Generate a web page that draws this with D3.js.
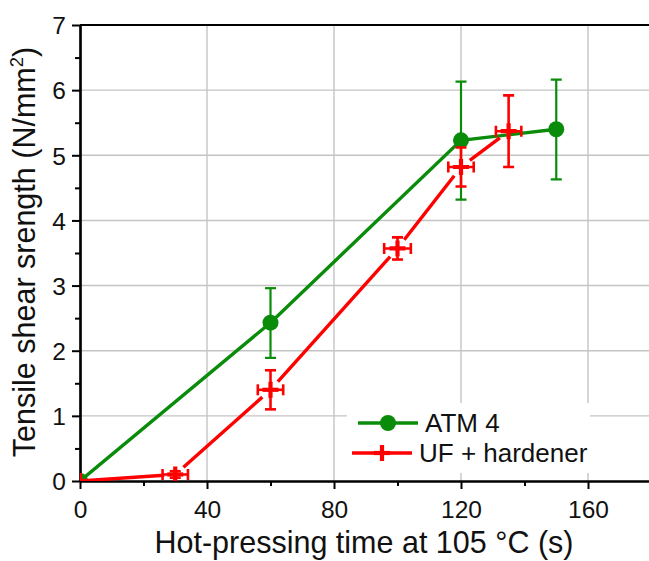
<!DOCTYPE html>
<html><head><meta charset="utf-8">
<script src="https://cdn.jsdelivr.net/npm/d3@7"></script>
<style>body{margin:0;background:#fff} text{font-family:"Liberation Sans",Arial,sans-serif}</style>
</head><body><svg id="c" width="649" height="561"></svg>
<script>
// ---- data ----
const atmX=[0,60,120,150];
const atmY=[0,2.43,5.23,5.40];
const atmErrLo=[0,1.89,4.32,4.63];
const atmErrHi=[0,2.96,6.13,6.16];
const ufX=[0,30,60,100,120,135];
const ufY=[0,0.10,1.40,3.57,4.82,5.37];
const ufYErr=[0,0.05,0.30,0.17,0.30,0.55];
const ufXErr=[0,4,4,4.2,4,4];
const xTicks=[0,40,80,120,160];
const xMinor=[20,60,100,140,180];
const yTicks=[0,1,2,3,4,5,6,7];
const yMinor=[0.5,1.5,2.5,3.5,4.5,5.5,6.5];
const seriesNames=["ATM 4","UF + hardener"];
const green="#0a8c0a", red="#ff0000";

const svg=d3.select("#c");
const L=80,R=651.5,T=25,B=481;
const x=d3.scaleLinear([0,180],[L,R]);
const y=d3.scaleLinear([0,7],[B,T]);

svg.append("defs").append("clipPath").attr("id","pc")
  .append("rect").attr("x",L).attr("y",T).attr("width",R-L).attr("height",B-T);

// grid
const g=svg.append("g");
g.selectAll(".gx").data(xTicks.slice(1)).join("line")
  .attr("x1",d=>x(d)).attr("x2",d=>x(d)).attr("y1",T).attr("y2",B)
  .attr("stroke","#c4c4c4").attr("stroke-width",1.4);
g.selectAll(".gy").data(yTicks.slice(1,-1)).join("line")
  .attr("x1",L).attr("x2",R).attr("y1",d=>y(d)).attr("y2",d=>y(d))
  .attr("stroke","#c4c4c4").attr("stroke-width",1.4);

// axes
const ax=svg.append("g").attr("transform",`translate(0,${B})`)
  .call(d3.axisBottom(x).tickValues(xTicks).tickSize(8).tickSizeOuter(0).tickPadding(12).tickFormat(d3.format("d")));
svg.append("g").attr("transform",`translate(0,${B})`)
  .call(d3.axisBottom(x).tickValues(xMinor).tickSize(5).tickSizeOuter(0).tickFormat(""));
const ay=svg.append("g").attr("transform",`translate(${L},0)`)
  .call(d3.axisLeft(y).tickValues(yTicks).tickSize(8).tickSizeOuter(0).tickPadding(6).tickFormat(d3.format("d")));
svg.append("g").attr("transform",`translate(${L},0)`)
  .call(d3.axisLeft(y).tickValues(yMinor).tickSize(5).tickSizeOuter(0).tickFormat(""));
svg.selectAll(".domain").attr("stroke","#000").attr("stroke-width",2.2);
svg.selectAll(".tick line").attr("stroke","#000").attr("stroke-width",2);
svg.selectAll(".tick text").attr("font-size",24.5).attr("fill","#111")
  .style("font-family","'Liberation Sans',Arial,sans-serif");
ay.selectAll(".tick text").attr("dy","0.36em");
// top frame line
svg.append("line").attr("x1",L).attr("x2",R).attr("y1",T).attr("y2",T).attr("stroke","#000").attr("stroke-width",2.2);

// titles
svg.append("text").attr("x",364).attr("y",553).attr("text-anchor","middle")
  .attr("font-size",30.5).attr("fill","#111").text("Hot-pressing time at 105 °C (s)");
const yt=svg.append("text").attr("transform","translate(35,252) rotate(-90)").attr("text-anchor","middle")
  .attr("font-size",30.5).attr("fill","#111");
yt.append("tspan").text("Tensile shear srength (N/mm");
yt.append("tspan").attr("font-size",18.5).attr("dy",-12).text("2");
yt.append("tspan").attr("dy",12).text(")");

const plot=svg.append("g").attr("clip-path","url(#pc)");

// ATM 4
const atm=atmX.map((v,i)=>({x:v,y:atmY[i],lo:atmErrLo[i],hi:atmErrHi[i]}));
plot.append("path").datum(atm).attr("d",d3.line().x(d=>x(d.x)).y(d=>y(d.y)))
  .attr("fill","none").attr("stroke",green).attr("stroke-width",3.4);
const eb=plot.append("g").attr("stroke",green).attr("stroke-width",2.2);
atm.filter(d=>d.hi>d.lo).forEach(d=>{
  eb.append("line").attr("x1",x(d.x)).attr("x2",x(d.x)).attr("y1",y(d.lo)).attr("y2",y(d.hi));
  [d.lo,d.hi].forEach(v=>eb.append("line").attr("x1",x(d.x)-5.5).attr("x2",x(d.x)+5.5).attr("y1",y(v)).attr("y2",y(v)));
});
plot.selectAll(".atmc").data(atm).join("circle").attr("cx",d=>x(d.x)).attr("cy",d=>y(d.y)).attr("r",8).attr("fill",green);

// UF + hardener
const uf=ufX.map((v,i)=>({x:v,y:ufY[i],ey:ufYErr[i],ex:ufXErr[i]}));
const gap=11;
for(let i=0;i<uf.length-1;i++){
  const a=uf[i],b=uf[i+1];
  const x1=x(a.x),y1=y(a.y),x2=x(b.x),y2=y(b.y);
  const len=Math.hypot(x2-x1,y2-y1),ux=(x2-x1)/len,uy=(y2-y1)/len;
  const g1=i===0?0:gap;
  plot.append("line").attr("x1",x1+ux*g1).attr("y1",y1+uy*g1).attr("x2",x2-ux*gap).attr("y2",y2-uy*gap)
    .attr("stroke",red).attr("stroke-width",3.4);
}
const ebr=plot.append("g").attr("stroke",red).attr("stroke-width",2.6);
uf.forEach(d=>{
  const cx=x(d.x),cy=y(d.y);
  if(d.ey>0){
    ebr.append("line").attr("x1",cx).attr("x2",cx).attr("y1",y(d.y-d.ey)).attr("y2",y(d.y+d.ey));
    [d.y-d.ey,d.y+d.ey].forEach(v=>ebr.append("line").attr("x1",cx-5.5).attr("x2",cx+5.5).attr("y1",y(v)).attr("y2",y(v)));
  }
  if(d.ex>0){
    ebr.append("line").attr("x1",x(d.x-d.ex)).attr("x2",x(d.x+d.ex)).attr("y1",cy).attr("y2",cy);
    [d.x-d.ex,d.x+d.ex].forEach(v=>ebr.append("line").attr("x1",x(v)).attr("x2",x(v)).attr("y1",cy-5.5).attr("y2",cy+5.5));
  }
});
const plus=(sel,cx,cy)=>{
  sel.append("line").attr("x1",cx-8).attr("x2",cx+8).attr("y1",cy).attr("y2",cy).attr("stroke",red).attr("stroke-width",4.2);
  sel.append("line").attr("x1",cx).attr("x2",cx).attr("y1",cy-8).attr("y2",cy+8).attr("stroke",red).attr("stroke-width",4.2);
};
uf.forEach(d=>plus(plot,x(d.x),y(d.y)));

// legend
const lg=svg.append("g");
lg.append("rect").attr("x",347).attr("y",403).attr("width",243).attr("height",70).attr("fill","#fff");
lg.append("line").attr("x1",358).attr("x2",418).attr("y1",423).attr("y2",423).attr("stroke",green).attr("stroke-width",3.4);
lg.append("circle").attr("cx",388).attr("cy",423).attr("r",8).attr("fill",green);
lg.append("text").attr("x",425).attr("y",432).attr("font-size",26).attr("fill","#111").text(seriesNames[0]);
lg.append("line").attr("x1",352).attr("x2",412).attr("y1",453).attr("y2",453).attr("stroke",red).attr("stroke-width",3.4);
plus(lg,382,453);
lg.append("text").attr("x",419).attr("y",462).attr("font-size",26).attr("fill","#111").text(seriesNames[1]);
</script></body></html>
